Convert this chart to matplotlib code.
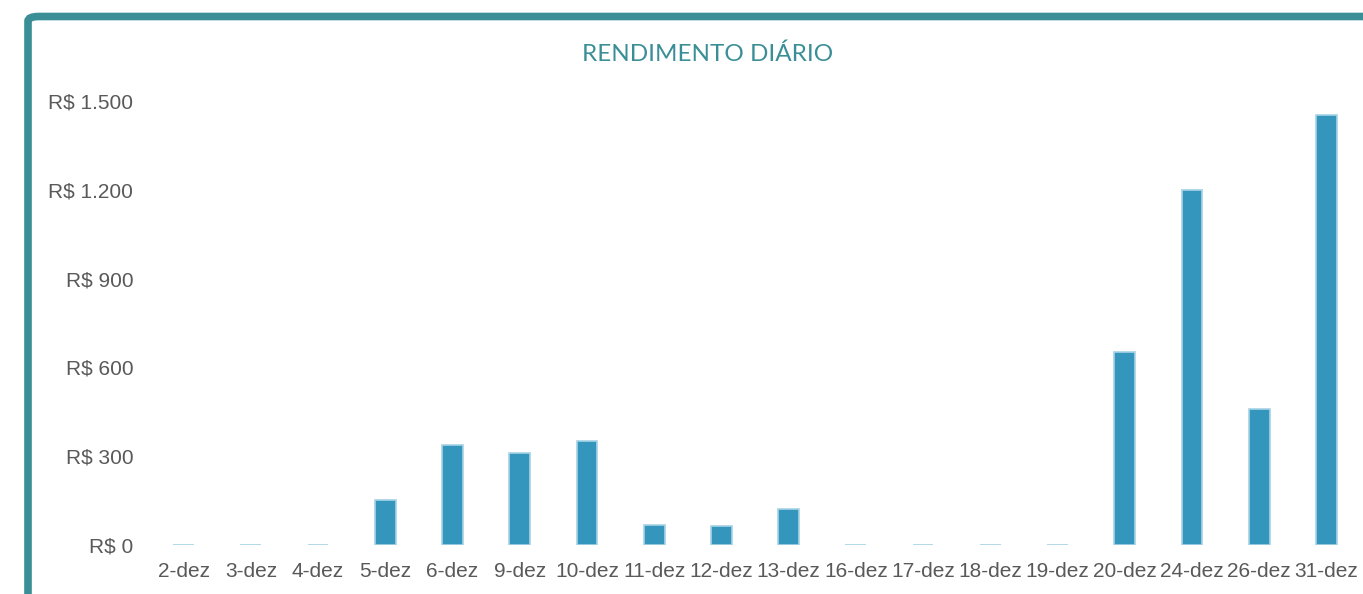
import matplotlib
matplotlib.use("Agg")
import matplotlib.pyplot as plt
from matplotlib.patches import FancyBboxPatch

categories = ["2-dez", "3-dez", "4-dez", "5-dez", "6-dez", "9-dez", "10-dez", "11-dez", "12-dez",
              "13-dez", "16-dez", "17-dez", "18-dez", "19-dez", "20-dez", "24-dez", "26-dez", "31-dez"]
values = [0, 0, 0, 152, 338, 311, 351, 68, 64, 122, 0, 0, 0, 0, 652, 1199, 459, 1453]
yticks = [0, 300, 600, 900, 1200, 1500]
ytick_labels = ["R$ 0", "R$ 300", "R$ 600", "R$ 900", "R$ 1.200", "R$ 1.500"]

fig = plt.figure(figsize=(13.63, 5.94), dpi=100)
W, H = 1363, 594

# frame
frame = FancyBboxPatch((28 / W, -0.2), 1.3, (594 - 16.5) / H + 0.2,
                       boxstyle="round,pad=0,rounding_size=0.008",
                       transform=fig.transFigure, facecolor="white",
                       edgecolor="#3a8f96", linewidth=5.5, zorder=-10)
fig.patches.append(frame)

ax = fig.add_axes([150 / W, 49 / H, 1210 / W, 444 / H])
ax.set_zorder(5)
ax.set_facecolor("none")
x = list(range(len(categories)))
ax.bar(x, values, width=0.31, color="#3596bd", edgecolor="#a6d3e6", linewidth=1.2)
ax.set_xlim(-0.5, len(categories) - 0.5)
ax.set_ylim(0, 1500)
ax.set_xticks(x)
ax.set_xticklabels(categories, fontsize=15, color="#595959", family="Liberation Sans")
ax.set_yticks(yticks)
ax.set_yticklabels(ytick_labels, fontsize=15, color="#595959", family="Liberation Sans")
ax.tick_params(length=0, pad=12)
ax.tick_params(axis="y", pad=12)
for s in ax.spines.values():
    s.set_visible(False)

fig.text(708 / W, 1 - 54 / H, "RENDIMENTO DIÁRIO", ha="center", va="center",
         fontsize=17.5, color="#3a8f96", family="Lato", zorder=6)

fig.savefig("out.png", dpi=100)
